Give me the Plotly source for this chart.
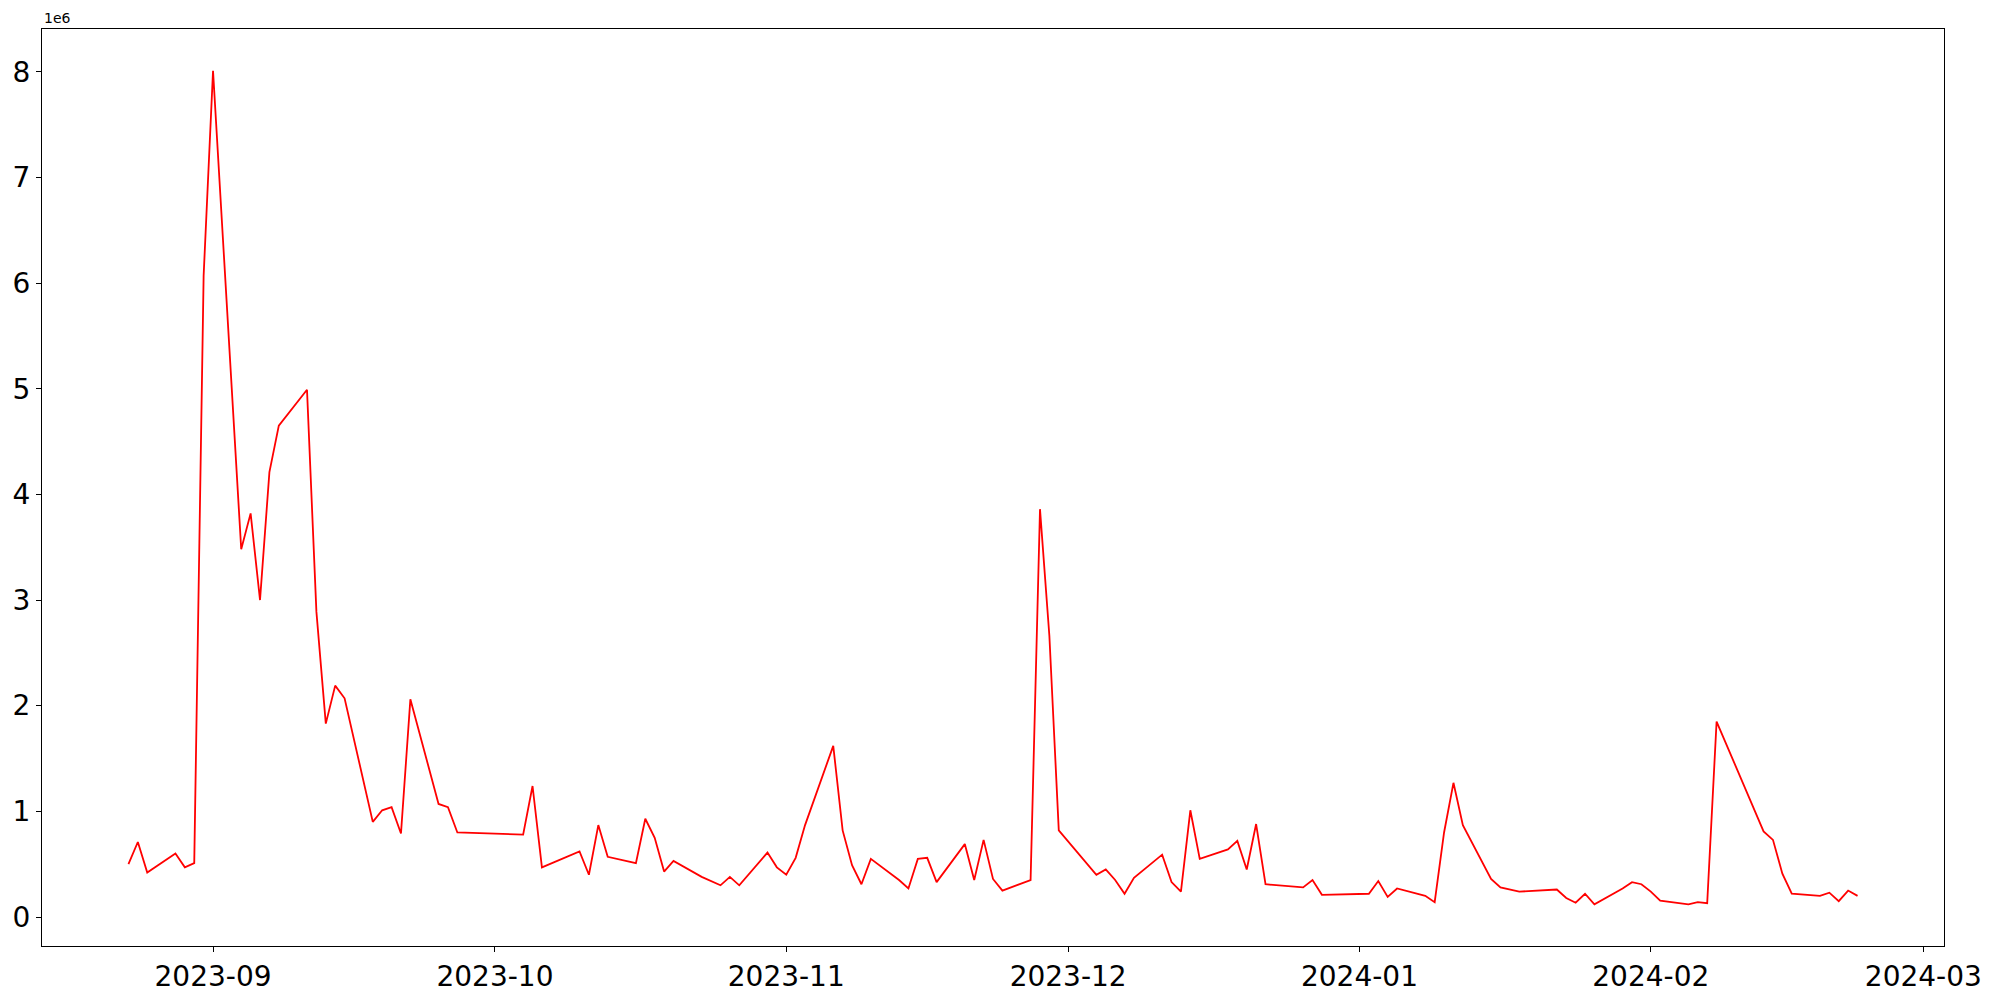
import pandas as pd
import plotly.graph_objects as go

dates = [
    "2023-08-23", "2023-08-24", "2023-08-25", "2023-08-28", "2023-08-29", "2023-08-30", "2023-08-31",
    "2023-09-01", "2023-09-04", "2023-09-05", "2023-09-06", "2023-09-07", "2023-09-08",
    "2023-09-11", "2023-09-12", "2023-09-13", "2023-09-14", "2023-09-15",
    "2023-09-18", "2023-09-19", "2023-09-20", "2023-09-21", "2023-09-22",
    "2023-09-25", "2023-09-26", "2023-09-27",
    "2023-10-04", "2023-10-05", "2023-10-06",
    "2023-10-10", "2023-10-11", "2023-10-12", "2023-10-13",
    "2023-10-16", "2023-10-17", "2023-10-18", "2023-10-19", "2023-10-20",
    "2023-10-23", "2023-10-24", "2023-10-25", "2023-10-26", "2023-10-27",
    "2023-10-30", "2023-10-31", "2023-11-01", "2023-11-02", "2023-11-03",
    "2023-11-06", "2023-11-07", "2023-11-08", "2023-11-09", "2023-11-10",
    "2023-11-13", "2023-11-14", "2023-11-15", "2023-11-16", "2023-11-17",
    "2023-11-20", "2023-11-21", "2023-11-22", "2023-11-23", "2023-11-24",
    "2023-11-27", "2023-11-28", "2023-11-29", "2023-11-30",
    "2023-12-04", "2023-12-05", "2023-12-06", "2023-12-07", "2023-12-08",
    "2023-12-11", "2023-12-12", "2023-12-13", "2023-12-14", "2023-12-15",
    "2023-12-18", "2023-12-19", "2023-12-20", "2023-12-21", "2023-12-22",
    "2023-12-26", "2023-12-27", "2023-12-28",
    "2024-01-02", "2024-01-03", "2024-01-04", "2024-01-05",
    "2024-01-08", "2024-01-09", "2024-01-10", "2024-01-11", "2024-01-12",
    "2024-01-15", "2024-01-16", "2024-01-18",
    "2024-01-22", "2024-01-23", "2024-01-24", "2024-01-25", "2024-01-26",
    "2024-01-29", "2024-01-30", "2024-01-31", "2024-02-01", "2024-02-02",
    "2024-02-05", "2024-02-06", "2024-02-07", "2024-02-08",
    "2024-02-13", "2024-02-14", "2024-02-15", "2024-02-16",
    "2024-02-19", "2024-02-20", "2024-02-21", "2024-02-22", "2024-02-23",
]

values_m = [
    0.50, 0.71, 0.42, 0.60, 0.47, 0.51, 6.07,
    8.01, 3.48, 3.82, 3.00, 4.21, 4.65,
    4.99, 2.89, 1.83, 2.19, 2.07,
    0.90, 1.01, 1.04, 0.79, 2.06,
    1.07, 1.04, 0.80,
    0.78, 1.24, 0.47,
    0.62, 0.40, 0.87, 0.57,
    0.51, 0.93, 0.75, 0.43, 0.53,
    0.38, 0.34, 0.30, 0.38, 0.30,
    0.61, 0.47, 0.40, 0.56, 0.87,
    1.62, 0.82, 0.49, 0.31, 0.55,
    0.35, 0.27, 0.55, 0.56, 0.33,
    0.69, 0.35, 0.73, 0.36, 0.25,
    0.35, 3.86, 2.66, 0.82,
    0.40, 0.45, 0.35, 0.22, 0.37,
    0.59, 0.33, 0.24, 1.01, 0.55,
    0.64, 0.72, 0.45, 0.88, 0.31,
    0.28, 0.35, 0.21,
    0.22, 0.34, 0.19, 0.27,
    0.20, 0.14, 0.80, 1.27, 0.87,
    0.36, 0.28, 0.24,
    0.26, 0.18, 0.135, 0.22, 0.12,
    0.27, 0.33, 0.31, 0.24, 0.155,
    0.12, 0.14, 0.13, 1.85,
    0.81, 0.73, 0.41, 0.22,
    0.20, 0.23, 0.15, 0.25, 0.20,
]

y_ticks = [0, 1, 2, 3, 4, 5, 6, 7, 8]
y_tick_labels = ["0", "1", "2", "3", "4", "5", "6", "7", "8"]

x = pd.to_datetime(dates)
y = [v * 1e6 for v in values_m]

span = x.max() - x.min()
x_range = [x.min() - 0.05 * span, x.max() + 0.05 * span]
ymin, ymax = min(y), max(y)
yspan = ymax - ymin
y_range = [ymin - 0.05 * yspan, ymax + 0.05 * yspan]

fig = go.Figure()
fig.add_trace(go.Scatter(x=x, y=y, mode="lines",
                         line=dict(color="red", width=1.8), showlegend=False))

axis_common = dict(showline=True, linecolor="black", linewidth=1, mirror=True,
                   showgrid=False, zeroline=False, ticks="outside", ticklen=5,
                   tickwidth=1, tickcolor="black", automargin=False,
                   tickfont=dict(family="DejaVu Sans", size=28, color="black"))

fig.update_xaxes(range=x_range, dtick="M1", tickformat="%Y-%m",
                 tick0="2023-09-01", **axis_common)
fig.update_yaxes(range=y_range, tickvals=[t * 1e6 for t in y_ticks],
                 ticktext=y_tick_labels, **axis_common)

fig.add_annotation(text="1e6", xref="paper", yref="paper", x=0, y=1,
                   xanchor="left", yanchor="bottom", showarrow=False, yshift=1,
                   font=dict(family="DejaVu Sans", size=14, color="black"))

fig.update_layout(width=1984, height=984, plot_bgcolor="white", paper_bgcolor="white",
                  margin=dict(l=34, r=48, t=21, b=46))

fig.write_html("out.html")
